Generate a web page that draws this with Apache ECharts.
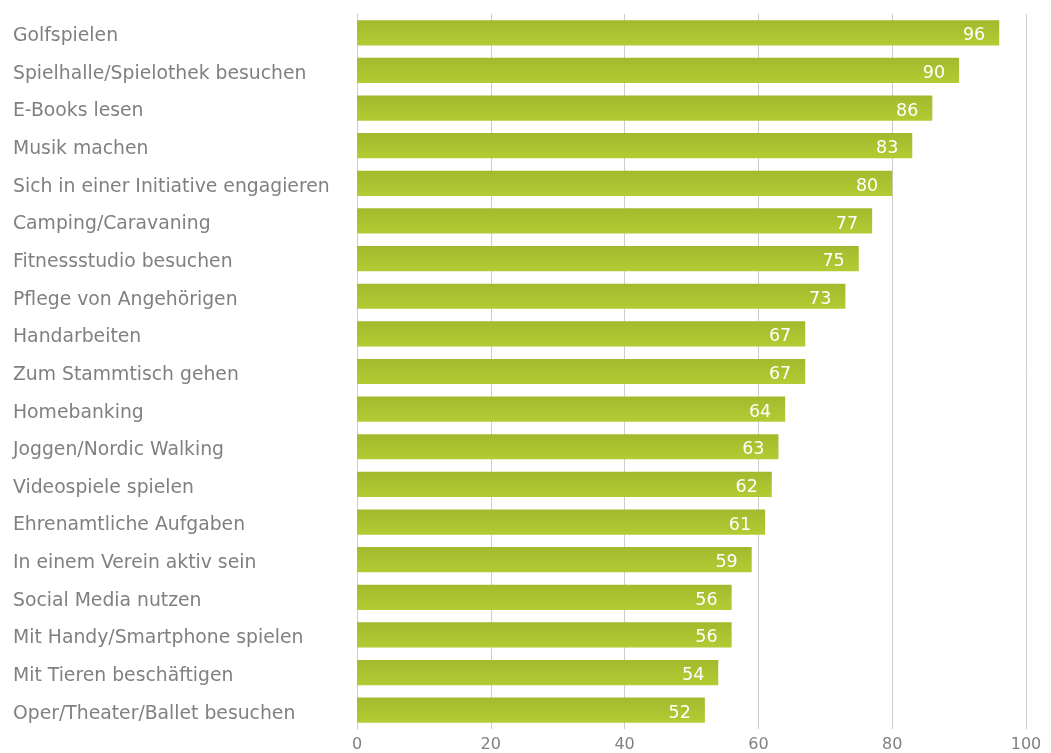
<!DOCTYPE html>
<html>
<head>
<meta charset="utf-8">
<script src="https://cdn.jsdelivr.net/npm/echarts@6/dist/echarts.min.js"></script>
<style>html,body{margin:0;padding:0;background:#fff}#c{width:1051px;height:753px}</style>
</head>
<body>
<div id="c"></div>
<script>
const categories = ["Golfspielen","Spielhalle/Spielothek besuchen","E-Books lesen","Musik machen","Sich in einer Initiative engagieren","Camping/Caravaning","Fitnessstudio besuchen","Pflege von Angehörigen","Handarbeiten","Zum Stammtisch gehen","Homebanking","Joggen/Nordic Walking","Videospiele spielen","Ehrenamtliche Aufgaben","In einem Verein aktiv sein","Social Media nutzen","Mit Handy/Smartphone spielen","Mit Tieren beschäftigen","Oper/Theater/Ballet besuchen"];
const values = [96,90,86,83,80,77,75,73,67,67,64,63,62,61,59,56,56,54,52];

const chart = echarts.init(document.getElementById('c'));
chart.setOption({
  animation: false,
  grid: {left: 357, right: 25, top: 14, bottom: 23, containLabel: false},
  xAxis: {
    type: 'value', min: 0, max: 100, interval: 20,
    axisLine: {show: false}, axisTick: {show: false},
    axisLabel: {color: '#808080', fontFamily: 'DejaVu Sans', fontSize: 16, margin: 8},
    splitLine: {lineStyle: {color: '#cccccc', width: 1}}
  },
  yAxis: {
    type: 'category', data: categories, inverse: true,
    axisLine: {lineStyle: {color: '#cccccc'}},
    axisTick: {length: 8, lineStyle: {color: '#cccccc'}},
    axisLabel: {
      color: '#808080', fontFamily: 'DejaVu Sans', fontSize: 18.8, align: 'left', margin: 344,
      formatter: function (v) { return '{a|' + v + '}'; },
      rich: {a: {color: '#808080', fontFamily: 'DejaVu Sans', fontSize: 18.8, padding: [7, 0, 0, 0]}}
    }
  },
  series: [{
    type: 'bar', data: values, barCategoryGap: '33%',
    itemStyle: {color: new echarts.graphic.LinearGradient(0, 1, 0, 0, [
      {offset: 0, color: '#b2cc33'}, {offset: 1, color: '#a3b92d'}
    ])},
    label: {show: true, position: 'insideRight', distance: 14, offset: [0, 3], color: '#ffffff', fontFamily: 'DejaVu Sans', fontSize: 17.5}
  }]
});
</script>
</body>
</html>
